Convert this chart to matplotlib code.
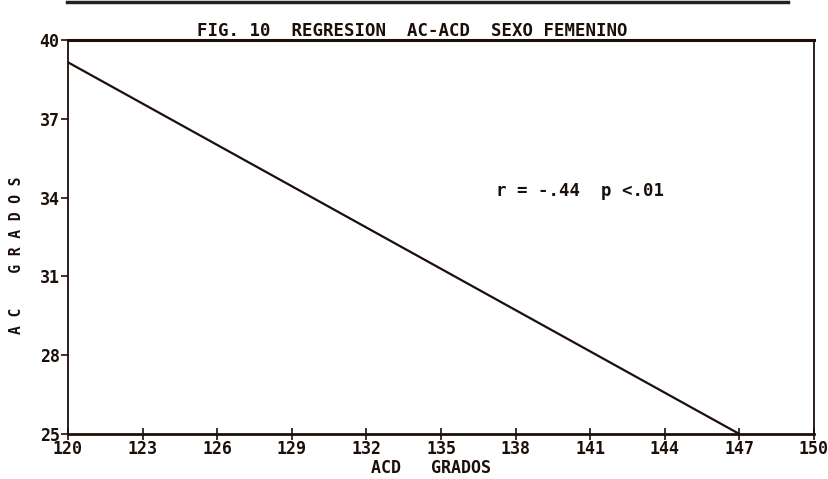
import matplotlib.pyplot as plt
from matplotlib.lines import Line2D

# datos de la recta de regresion
acd = [120, 147]
ac = [39.15, 25.0]

x_ticks = [120, 123, 126, 129, 132, 135, 138, 141, 144, 147, 150]
y_ticks = [25, 28, 31, 34, 37, 40]

titulo = "FIG. 10  REGRESION  AC-ACD  SEXO FEMENINO"
texto_r = "r = -.44  p <.01"

ink = '#1c0f0a'
plt.rcParams['font.family'] = ['DejaVu Sans Mono']
plt.rcParams['font.weight'] = 'bold'

fig = plt.figure(figsize=(8.29, 4.79), dpi=100)
ax = fig.add_axes([68 / 829, 1 - 434 / 479, (814 - 68) / 829, (434 - 40) / 479])

ax.plot(acd, ac, color=ink, linewidth=1.6)

ax.set_xlim(120, 150)
ax.set_ylim(25, 40)
ax.set_xticks(x_ticks)
ax.set_yticks(y_ticks)
ax.tick_params(axis='x', direction='inout', length=9, width=1.2, colors=ink,
               labelsize=12, pad=0)
ax.tick_params(axis='y', direction='out', length=5, width=1.2, colors=ink,
               labelsize=12, pad=1)
for s in ax.spines.values():
    s.set_linewidth(1.3)
    s.set_color(ink)
ax.spines['top'].set_linewidth(2.2)
ax.spines['bottom'].set_linewidth(2.0)

ax.text(137.2, 34.25, texto_r, color=ink, fontsize=12.5, fontweight='bold',
        va='center', ha='left')

fig.text(412 / 829, 1 - 31 / 479, titulo, color=ink, fontsize=12.5,
         fontweight='bold', ha='center', va='center')
fig.text(431 / 829, 1 - 468 / 479, "ACD   GRADOS", color=ink, fontsize=12,
         fontweight='bold', ha='center', va='center')
fig.text(17 / 829, 1 - 255 / 479, "A C    G R A D O S", color=ink, fontsize=10.5,
         fontweight='bold', ha='center', va='center', rotation=90)

# linea gruesa arriba del grafico
fig.add_artist(Line2D([67 / 829, 788 / 829], [1 - 1.5 / 479, 1 - 1.5 / 479],
                      color='#222222', linewidth=2.5))

fig.savefig('out.png', dpi=100)
